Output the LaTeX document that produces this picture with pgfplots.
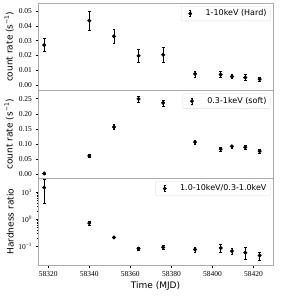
\documentclass[border=0pt]{standalone}
\usepackage{fontspec}
\setmainfont{DejaVu Sans}
\newfontfamily\tickfont{Liberation Serif}
\usepackage{pgfplots}
\pgfplotsset{compat=1.18}

\pgfplotsset{
  panel/.style={
    scale only axis,
    width=235pt, height=87.5pt,
    xmin=58315, xmax=58429.5,
    scaled x ticks=false, scaled y ticks=false,
    axis line style={gray!65, line width=0.9pt},
    tick align=outside,
    major tick length=2.5pt,
    minor tick length=1.5pt,
    every tick/.style={black, line width=0.4pt},
    ytick pos=left, xtick pos=bottom,
    tick label style={font=\tickfont\fontsize{7.5}{8}\selectfont},
    /pgf/number format/assume math mode=true,
    label style={font=\fontsize{9}{10}\selectfont},
    ylabel style={at={(axis description cs:-0.088,0.5)}, anchor=south},
    legend style={draw=gray!25, fill=white, rounded corners=1pt,
      at={(0.99,0.965)}, anchor=north east,
      font=\fontsize{8}{9}\selectfont, inner xsep=2pt, inner ysep=1.5pt},
    legend cell align=left,
    legend image code/.code={
      \path[draw=none, fill=none] (0cm,0cm) -- (0.72cm,0cm);
      \draw[black, line width=0.6pt] (0.25cm,-0.11cm) -- (0.25cm,0.11cm);
      \draw[black, line width=0.5pt] (0.21cm,-0.11cm) -- (0.29cm,-0.11cm);
      \draw[black, line width=0.5pt] (0.21cm,0.11cm) -- (0.29cm,0.11cm);
      \fill[black] (0.25cm,0cm) circle (1.7pt);
    },
  },
  errs/.style={
    only marks, black, mark=*, mark size=1.8pt,
    mark options={black, fill=black},
    error bars/.cd, y dir=both, y explicit,
    error bar style={line width=0.7pt, black},
    error mark options={rotate=90, mark size=1.4pt, line width=0.5pt, black},
  },
  twodec/.style={
    /pgf/number format/fixed,
    /pgf/number format/fixed zerofill,
    /pgf/number format/precision=2,
  },
}

\begin{document}
\begin{tikzpicture}
\path[use as bounding box] (-38pt,3pt) rectangle (266pt,-293pt);

% Top panel: hard
\begin{axis}[panel, at={(0pt,0pt)}, anchor=north west,
  ymin=-0.0038, ymax=0.0555,
  ytick={0,0.01,0.02,0.03,0.04,0.05},
  yticklabel style={twodec},
  xtick=\empty,
  ylabel={count rate (s\textsuperscript{−1})}]
\addplot[errs] coordinates {
  (58318,0.0270) +- (0,0.0044)
  (58340,0.0435) +- (0,0.0063)
  (58352,0.0329) +- (0,0.0050)
  (58364,0.0197) +- (0,0.0042)
  (58376,0.0204) +- (0,0.0050)
  (58391.5,0.0075) +- (0,0.0020)
  (58404,0.0070) +- (0,0.0020)
  (58409.5,0.0057) +- (0,0.0015)
  (58416,0.0050) +- (0,0.0020)
  (58423,0.0039) +- (0,0.0013)
};
\addlegendentry{1-10keV (Hard)}
\end{axis}

% Middle panel: soft
\begin{axis}[panel, at={(0pt,-87.5pt)}, anchor=north west,
  ymin=-0.013, ymax=0.277,
  ytick={0,0.05,0.1,0.15,0.2,0.25},
  yticklabel style={twodec},
  xtick=\empty,
  ylabel={count rate (s\textsuperscript{−1})}]
\addplot[errs] coordinates {
  (58318,0.002) +- (0,0.002)
  (58340,0.060) +- (0,0.005)
  (58352,0.156) +- (0,0.009)
  (58364,0.249) +- (0,0.010)
  (58376,0.236) +- (0,0.010)
  (58391.5,0.106) +- (0,0.007)
  (58404,0.083) +- (0,0.007)
  (58409.5,0.092) +- (0,0.005)
  (58416,0.089) +- (0,0.008)
  (58423,0.076) +- (0,0.006)
};
\addlegendentry{0.3-1keV (soft)}
\end{axis}

% Bottom panel: hardness ratio
\begin{axis}[panel, at={(0pt,-175pt)}, anchor=north west,
  ymode=log, ymin=0.019, ymax=34,
  ytick={0.1,1,10},
  yticklabels={10\textsuperscript{−1},10\textsuperscript{0},10\textsuperscript{1}},
  xtick={58320,58340,58360,58380,58400,58420},
  xticklabels={58320,58340,58360,58380,58400,58420},
  xlabel={Time (MJD)},
  xlabel style={yshift=2pt},
  ylabel={Hardness ratio}]
\addplot[errs] coordinates {
  (58318,15) += (0,15) -= (0,11)
  (58340,0.72) += (0,0.12) -= (0,0.12)
  (58352,0.21) += (0,0.02) -= (0,0.02)
  (58364,0.080) += (0,0.012) -= (0,0.012)
  (58376,0.090) += (0,0.015) -= (0,0.015)
  (58391.5,0.075) += (0,0.015) -= (0,0.015)
  (58404,0.085) += (0,0.035) -= (0,0.025)
  (58409.5,0.065) += (0,0.015) -= (0,0.015)
  (58416,0.057) += (0,0.030) -= (0,0.025)
  (58423,0.045) += (0,0.015) -= (0,0.015)
};
\addlegendentry{1.0-10keV/0.3-1.0keV}
\end{axis}
\end{tikzpicture}
\end{document}
